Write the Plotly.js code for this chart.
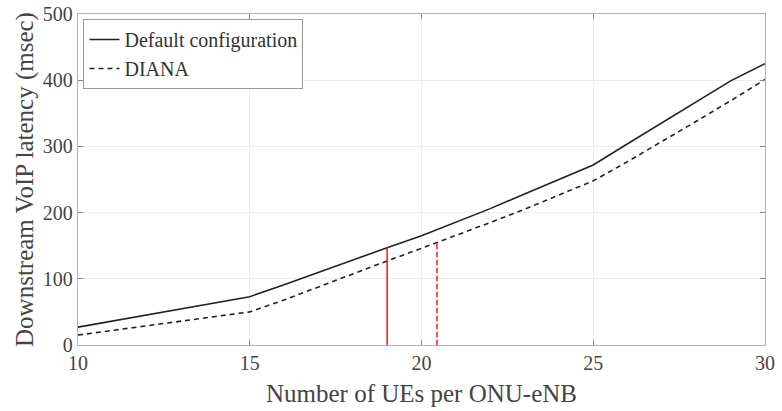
<!DOCTYPE html>
<html>
<head>
<meta charset="utf-8">
<script src="https://cdn.plot.ly/plotly-3.0.1.min.js"></script>
<style>html,body{margin:0;padding:0;background:#fff;}#chart{width:782px;height:411px;}</style>
</head>
<body>
<div id="chart"></div>
<script>
const ues = [10, 11, 12, 13, 14, 15, 16, 17, 18, 19, 20, 21, 22, 23, 24, 25, 26, 27, 28, 29, 30];
const defaultLatency = [27, 36, 45, 54, 64, 73, 91, 110, 128, 147, 165, 185, 206, 228, 250, 272, 304, 336, 368, 399, 425];
const dianaLatency = [15, 22, 29, 36, 43, 50, 68, 88, 107, 127, 146, 165, 185, 205, 226, 248, 277, 307, 338, 369, 401];
const defaultLimitX = [19, 19];
const defaultLimitY = [0, 147];
const dianaLimitX = [20.45, 20.45];
const dianaLimitY = [0, 154];
const xTicks = [10, 15, 20, 25, 30];
const yTicks = [0, 100, 200, 300, 400, 500];

const font = 'Liberation Serif, Times New Roman, serif';
const traces = [
  {x: ues, y: defaultLatency, mode: 'lines', name: 'Default configuration',
   line: {color: '#222', width: 1.6, dash: 'solid'}},
  {x: ues, y: dianaLatency, mode: 'lines', name: 'DIANA',
   line: {color: '#222', width: 1.6, dash: '5px,4px'}},
  {x: defaultLimitX, y: defaultLimitY, mode: 'lines', showlegend: false,
   line: {color: '#ff2020', width: 1.6}},
  {x: dianaLimitX, y: dianaLimitY, mode: 'lines', showlegend: false,
   line: {color: '#ff2020', width: 1.6, dash: '5px,3px'}}
];
const axisCommon = {
  showline: true, linecolor: '#b0b0b0', linewidth: 1.2, mirror: 'ticks',
  ticks: 'inside', ticklen: 5, tickcolor: '#888', showgrid: true, gridcolor: '#ececec',
  zeroline: false, tickfont: {family: font, size: 20, color: '#444'}
};
const layout = {
  width: 782, height: 411,
  margin: {l: 78, r: 17, t: 14, b: 66},
  paper_bgcolor: '#fff', plot_bgcolor: '#fff',
  font: {family: font, color: '#444'},
  xaxis: Object.assign({}, axisCommon, {
    range: [10, 30], tickvals: xTicks, ticktext: xTicks.map(String),
    title: {text: 'Number of UEs per ONU-eNB', font: {family: font, size: 25, color: '#444'}, standoff: 11}
  }),
  yaxis: Object.assign({}, axisCommon, {
    range: [0, 500], tickvals: yTicks, ticktext: yTicks.map(String),
    title: {text: 'Downstream VoIP latency (msec)', font: {family: font, size: 25, color: '#444'}, standoff: 2}
  }),
  legend: {x: 0.008, y: 0.985, xanchor: 'left', yanchor: 'top',
    bgcolor: '#fff', bordercolor: '#999', borderwidth: 1,
    font: {family: font, size: 20, color: '#333'}, tracegroupgap: 0, itemwidth: 30},
  showlegend: true
};
Plotly.newPlot('chart', traces, layout, {displayModeBar: false, staticPlot: true});
</script>
</body>
</html>
